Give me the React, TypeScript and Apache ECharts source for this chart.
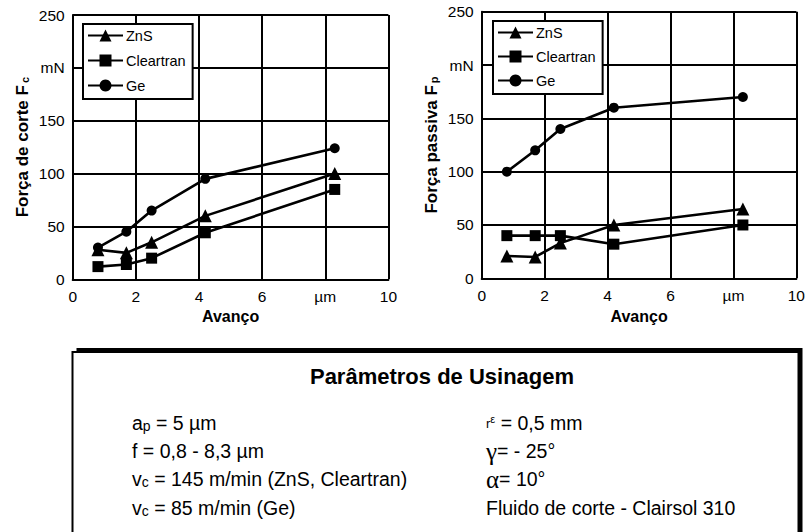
import React, { useEffect, useRef } from "react";
import * as echarts from "echarts";

const feed = [0.8, 1.7, 2.5, 4.2, 8.3];
const fcZnS = [28, 25, 35, 60, 100];
const fcCleartran = [12, 14, 20, 44, 85];
const fcGe = [30, 45, 65, 95, 124];
const fpZnS = [21, 20, 33, 50, 65];
const fpCleartran = [40, 40, 40, 32, 50];
const fpGe = [100, 120, 140, 160, 170];
const seriesNames = ["ZnS", "Cleartran", "Ge"];
const seriesSymbols = ["triangle", "rect", "circle"];
const seriesSizes = [13, 11, 10];
const xUnitTick = 8;
const yUnitTick = 200;
const xUnitLabel = "µm";
const yUnitLabel = "mN";

const paramsLeft = [
  "{m|a}{s|p}{m| = 5 µm}",
  "{m|f = 0,8 - 8,3 µm}",
  "{m|v}{s|c}{m| = 145 m/min (ZnS, Cleartran)}",
  "{m|v}{s|c}{m| = 85 m/min (Ge)}",
];
const paramsRight = [
  "{r|r}{e|ε}{m| = 0,5 mm}",
  "{g|γ}{m|= - 25°}",
  "{g|α}{m|= 10°}",
  "{m|Fluido de corte - Clairsol 310}",
];

const FONT = "Liberation Sans, Arial, sans-serif";

export default function App() {
  const ref = useRef<HTMLDivElement>(null);
  useEffect(() => {
    if (!ref.current) return;
    const chart = echarts.init(ref.current, undefined, { renderer: "svg" });
    const mk = (vals: number[]) => vals.map((v, i) => [feed[i], v]);
    const sets = [
      [fcZnS, fcCleartran, fcGe],
      [fpZnS, fpCleartran, fpGe],
    ];
    const series: any[] = [];
    sets.forEach((group, gi) => {
      group.forEach((vals, si) => {
        series.push({
          type: "line",
          name: seriesNames[si],
          xAxisIndex: gi,
          yAxisIndex: gi,
          data: mk(vals),
          symbol: seriesSymbols[si],
          symbolSize: seriesSizes[si],
          itemStyle: { color: "#000" },
          lineStyle: { color: "#000", width: 2.6 },
          z: 3,
        });
      });
    });
    const xAxisCfg = (gi: number) => ({
      type: "value",
      gridIndex: gi,
      min: 0,
      max: 10,
      interval: 2,
      name: "Avanço",
      nameLocation: "middle",
      nameGap: 29,
      nameTextStyle: { fontSize: 16, fontWeight: "bold", color: "#000", fontFamily: FONT },
      axisLine: { show: true, lineStyle: { color: "#000", width: 2 } },
      axisTick: { show: false },
      splitLine: { show: true, lineStyle: { color: "#000", width: 2 } },
      axisLabel: {
        color: "#000",
        fontSize: 15.5,
        fontFamily: FONT,
        margin: 9,
        formatter: (v: number) => (v === xUnitTick ? xUnitLabel : String(v)),
      },
    });
    const yAxisCfg = (gi: number, name: string) => ({
      type: "value",
      gridIndex: gi,
      min: 0,
      max: 250,
      interval: 50,
      name,
      nameLocation: "middle",
      nameGap: 42,
      nameTextStyle: {
        color: "#000",
        fontFamily: FONT,
        rich: {
          a: { fontSize: 17, fontWeight: "bold", fontFamily: FONT, color: "#000" },
          b: {
            fontSize: 11,
            fontWeight: "bold",
            fontFamily: FONT,
            color: "#000",
            verticalAlign: "bottom",
            padding: [6, 0, 0, 2],
          },
        },
      },
      axisLine: { show: true, lineStyle: { color: "#000", width: 2 } },
      axisTick: { show: false },
      splitLine: { show: true, lineStyle: { color: "#000", width: 2 } },
      axisLabel: {
        color: "#000",
        fontSize: 15.5,
        fontFamily: FONT,
        margin: 8,
        formatter: (v: number) => (v === yUnitTick ? yUnitLabel : String(v)),
      },
    });
    const legendCfg = (left: number, top: number, gap: number) => ({
      left,
      top,
      orient: "vertical",
      data: seriesNames,
      selectedMode: false,
      itemWidth: 35,
      itemHeight: 15,
      itemGap: gap,
      padding: [4, 7, 6, 4],
      backgroundColor: "#fff",
      borderColor: "#000",
      borderWidth: 2,
      textStyle: { color: "#000", fontSize: 14.5, fontFamily: FONT, padding: [0, 0, 0, -2] },
      z: 10,
    });
    const rich = {
      m: { fontSize: 19.5, fontFamily: FONT, fill: "#000", color: "#000" },
      s: { fontSize: 14, fontFamily: FONT, fill: "#000", color: "#000", verticalAlign: "bottom" },
      r: { fontSize: 13, fontFamily: FONT, fill: "#000", color: "#000", verticalAlign: "middle" },
      e: { fontSize: 11, fontFamily: FONT, fill: "#000", color: "#000", verticalAlign: "top" },
      g: { fontSize: 25, fontFamily: "Liberation Serif, serif", fill: "#000", color: "#000" },
    };
    const rowsY = [423, 451, 479, 508];
    const graphic: any[] = [
      { type: "rect", shape: { x: 76.5, y: 348, width: 726, height: 220 }, style: { fill: "#000" }, z: 1 },
      {
        type: "rect",
        shape: { x: 72.5, y: 352, width: 726, height: 220 },
        style: { fill: "#fff", stroke: "#000", lineWidth: 2 },
        z: 2,
      },
      {
        type: "text",
        x: 442,
        y: 376,
        z: 3,
        style: {
          text: "Parâmetros de Usinagem",
          font: `bold 22px ${FONT}`,
          fill: "#000",
          align: "center",
          verticalAlign: "middle",
        },
      },
    ];
    paramsLeft.forEach((t, i) =>
      graphic.push({
        type: "text",
        x: 132,
        y: rowsY[i],
        z: 3,
        style: { text: t, rich, fill: "#000", align: "left", verticalAlign: "middle" },
      })
    );
    paramsRight.forEach((t, i) =>
      graphic.push({
        type: "text",
        x: 486,
        y: rowsY[i],
        z: 3,
        style: { text: t, rich, fill: "#000", align: "left", verticalAlign: "middle" },
      })
    );
    chart.setOption({
      animation: false,
      backgroundColor: "#fff",
      textStyle: { fontFamily: FONT },
      grid: [
        { left: 72.7, top: 15, width: 315.7, height: 264.3, containLabel: false },
        { left: 481.7, top: 11.7, width: 319.3, height: 266.6, containLabel: false },
      ],
      xAxis: [xAxisCfg(0), xAxisCfg(1)],
      yAxis: [yAxisCfg(0, "{a|Força de corte F}{b|c}"), yAxisCfg(1, "{a|Força passiva F}{b|p}")],
      legend: [legendCfg(83, 24, 10), legendCfg(493, 21, 9)],
      series,
      graphic,
    });
    return () => chart.dispose();
  }, []);
  return (
    <div
      ref={ref}
      style={{ position: "fixed", left: 0, top: 0, width: 808, height: 532, background: "#fff" }}
    />
  );
}
